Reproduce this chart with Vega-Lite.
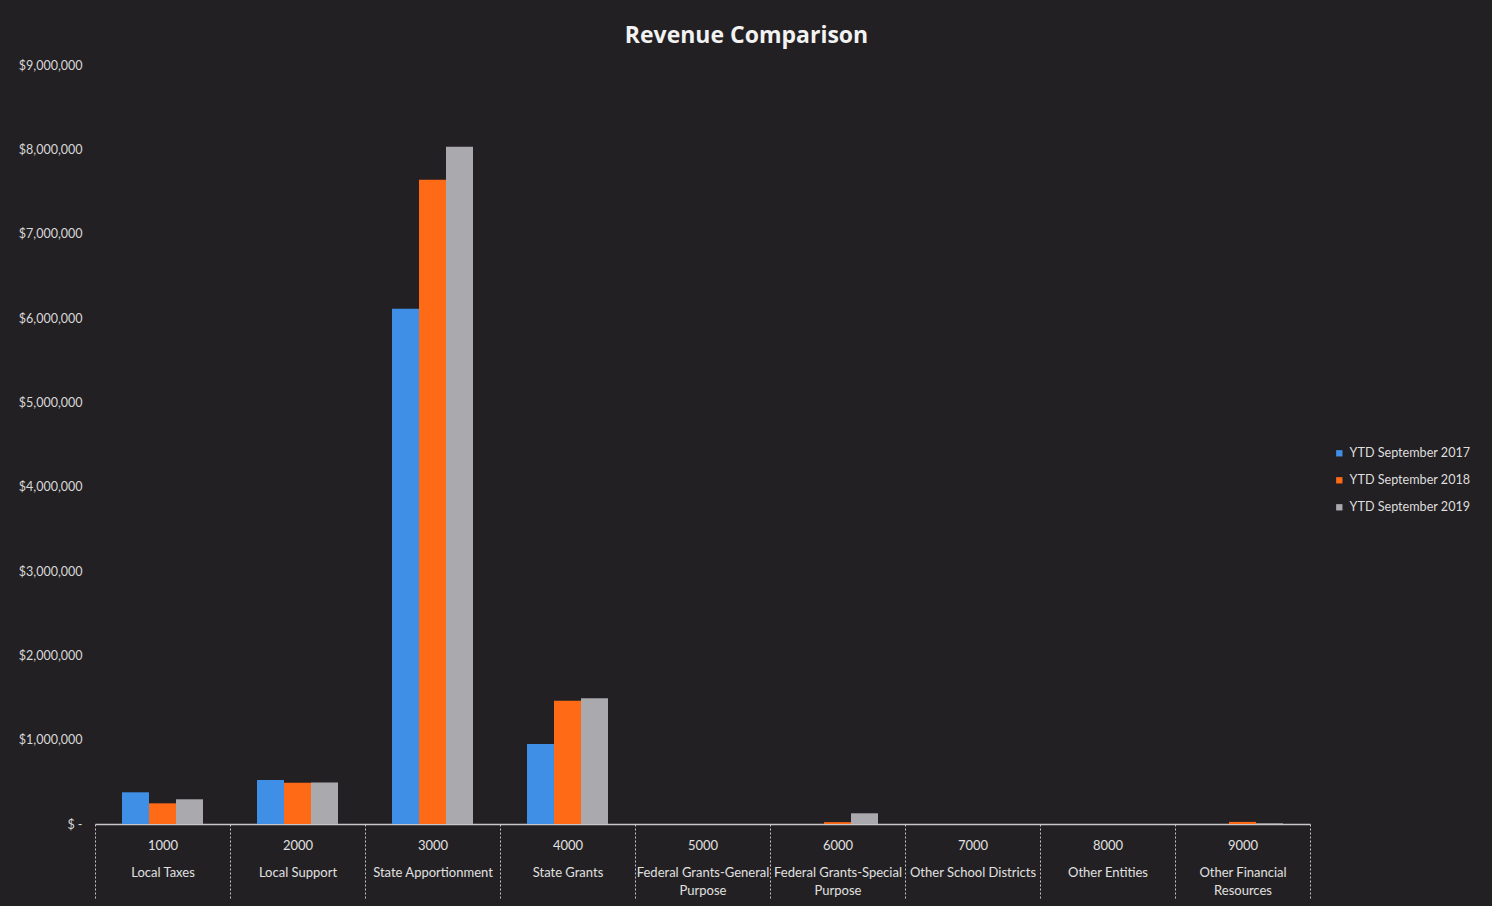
{
  "$schema": "https://vega.github.io/schema/vega-lite/v6.json",
  "autosize": {"type": "none"},
  "width": 1215,
  "height": 759,
  "padding": {"left": 95, "top": 65, "right": 182, "bottom": 82},
  "background": "#232023",
  "title": {
    "text": "Revenue Comparison",
    "anchor": "middle",
    "dx": 44,
    "offset": 11,
    "font": "Open Sans",
    "fontSize": 23,
    "fontWeight": "bold",
    "color": "#f2f2f2"
  },
  "data": {
    "values": [
      {"category": "1000|Local Taxes", "series": "YTD September 2017", "amount": 376000},
      {"category": "1000|Local Taxes", "series": "YTD September 2018", "amount": 245000},
      {"category": "1000|Local Taxes", "series": "YTD September 2019", "amount": 293000},
      {"category": "2000|Local Support", "series": "YTD September 2017", "amount": 522000},
      {"category": "2000|Local Support", "series": "YTD September 2018", "amount": 490000},
      {"category": "2000|Local Support", "series": "YTD September 2019", "amount": 492000},
      {"category": "3000|State Apportionment", "series": "YTD September 2017", "amount": 6110000},
      {"category": "3000|State Apportionment", "series": "YTD September 2018", "amount": 7640000},
      {"category": "3000|State Apportionment", "series": "YTD September 2019", "amount": 8030000},
      {"category": "4000|State Grants", "series": "YTD September 2017", "amount": 950000},
      {"category": "4000|State Grants", "series": "YTD September 2018", "amount": 1460000},
      {"category": "4000|State Grants", "series": "YTD September 2019", "amount": 1490000},
      {"category": "5000|Federal Grants-General|Purpose", "series": "YTD September 2017", "amount": 0},
      {"category": "5000|Federal Grants-General|Purpose", "series": "YTD September 2018", "amount": 0},
      {"category": "5000|Federal Grants-General|Purpose", "series": "YTD September 2019", "amount": 0},
      {"category": "6000|Federal Grants-Special|Purpose", "series": "YTD September 2017", "amount": 0},
      {"category": "6000|Federal Grants-Special|Purpose", "series": "YTD September 2018", "amount": 22000},
      {"category": "6000|Federal Grants-Special|Purpose", "series": "YTD September 2019", "amount": 127000},
      {"category": "7000|Other School Districts", "series": "YTD September 2017", "amount": 0},
      {"category": "7000|Other School Districts", "series": "YTD September 2018", "amount": 0},
      {"category": "7000|Other School Districts", "series": "YTD September 2019", "amount": 0},
      {"category": "8000|Other Entities", "series": "YTD September 2017", "amount": 0},
      {"category": "8000|Other Entities", "series": "YTD September 2018", "amount": 0},
      {"category": "8000|Other Entities", "series": "YTD September 2019", "amount": 0},
      {"category": "9000|Other Financial|Resources", "series": "YTD September 2017", "amount": 0},
      {"category": "9000|Other Financial|Resources", "series": "YTD September 2018", "amount": 25000},
      {"category": "9000|Other Financial|Resources", "series": "YTD September 2019", "amount": 8000}
    ]
  },
  "mark": {"type": "bar"},
  "encoding": {
    "x": {
      "field": "category",
      "type": "nominal",
      "sort": null,
      "title": null,
      "scale": {"paddingInner": 0, "paddingOuter": 0},
      "axis": {
        "labelAngle": 0,
        "labelExpr": "[split(datum.label,'|')[0], '\u200b', '\u200b', split(datum.label,'|')[1], '\u200b', split(datum.label,'|')[2] || '\u200b']",
        "labelLineHeight": 9,
        "labelBaseline": "top",
        "labelFont": "Lato",
        "labelFontSize": 13,
        "labelColor": "#e0e0e0",
        "labelPadding": -61,
        "labelLimit": 200,
        "domainColor": "#c8c8c8",
        "domainWidth": 1.5,
        "tickBand": "extent",
        "tickSize": 76,
        "tickColor": "#c8c8c8",
        "tickDash": [2, 2],
        "tickWidth": 1,
        "grid": false
      }
    },
    "xOffset": {
      "field": "series",
      "type": "nominal",
      "scale": {"paddingInner": 0, "paddingOuter": 1}
    },
    "y": {
      "field": "amount",
      "type": "quantitative",
      "title": null,
      "scale": {"domain": [0, 9000000], "nice": false},
      "axis": {
        "values": [0, 1000000, 2000000, 3000000, 4000000, 5000000, 6000000, 7000000, 8000000, 9000000],
        "labelExpr": "datum.value == 0 ? '$ -' : '$' + format(datum.value, ',')",
        "labelFont": "Lato",
        "labelFontSize": 12.5,
        "labelColor": "#d8d8d8",
        "labelPadding": 13,
        "ticks": false,
        "domain": false,
        "grid": false
      }
    },
    "color": {
      "field": "series",
      "type": "nominal",
      "scale": {
        "domain": ["YTD September 2017", "YTD September 2018", "YTD September 2019"],
        "range": ["#3f8fe6", "#ff6a17", "#a9a9ae"]
      },
      "legend": {
        "title": null,
        "orient": "none",
        "legendX": 1238,
        "legendY": 382,
        "symbolType": "square",
        "symbolSize": 40,
        "symbolStrokeWidth": 0,
        "labelFont": "Lato",
        "labelFontSize": 12.6,
        "labelColor": "#dedede",
        "labelOffset": 4,
        "rowPadding": 14
      }
    }
  },
  "config": {
    "view": {"stroke": null}
  }
}
